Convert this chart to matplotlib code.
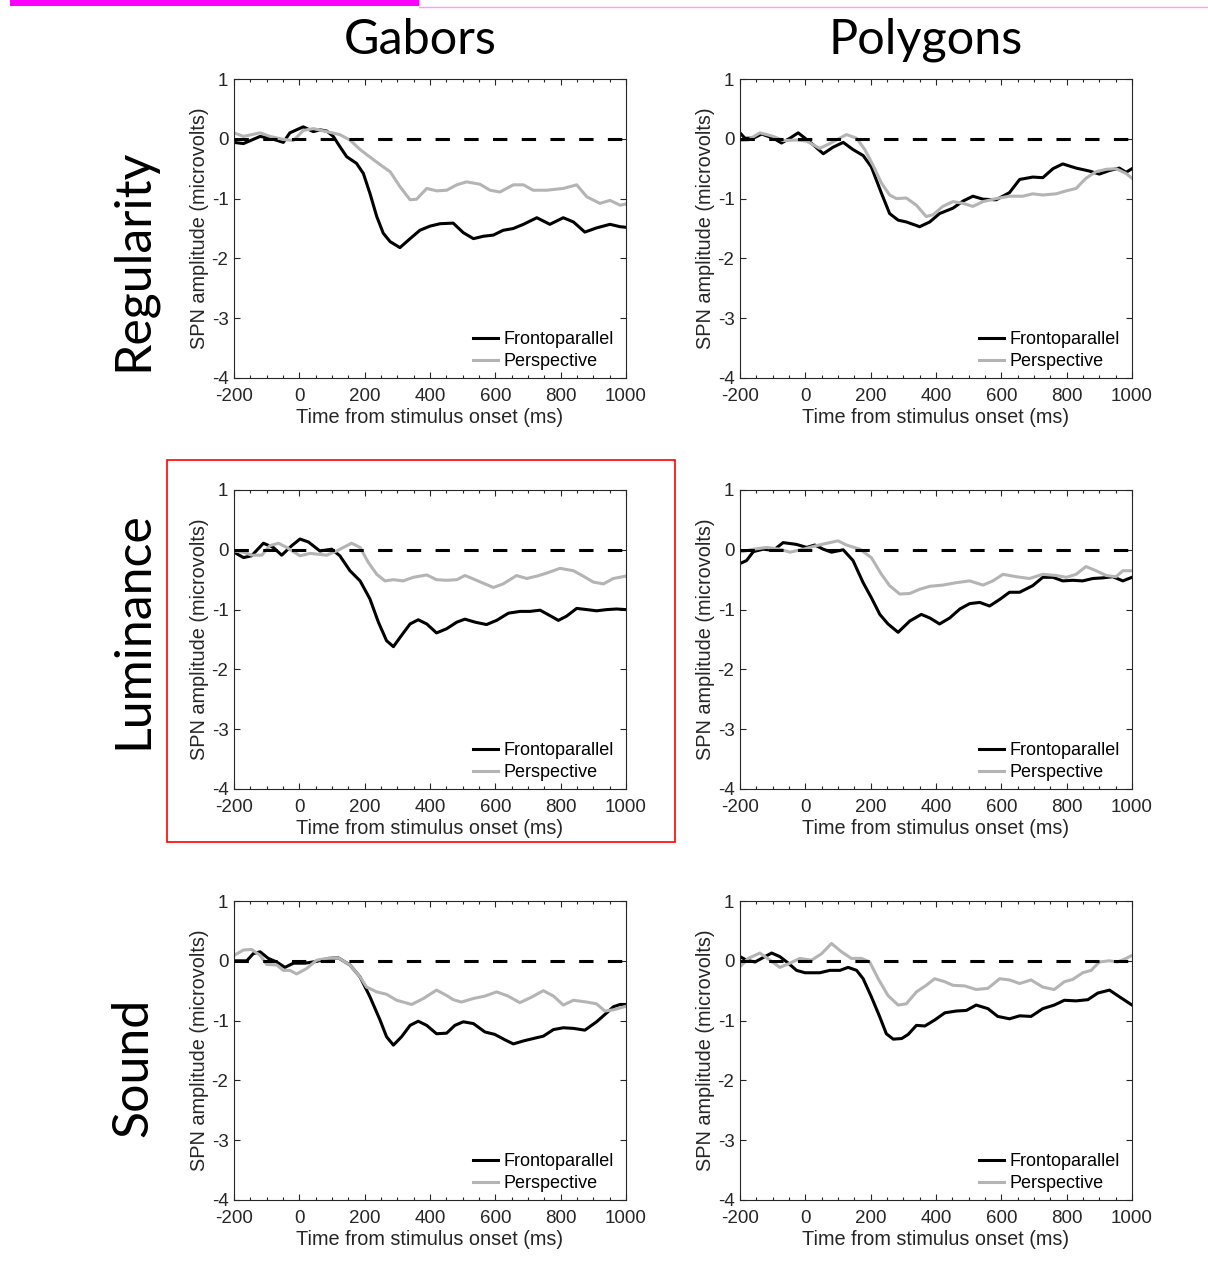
import matplotlib
matplotlib.use("Agg")
import matplotlib.pyplot as plt
from matplotlib.lines import Line2D
from matplotlib.patches import Rectangle
from matplotlib.ticker import MultipleLocator

plt.rcParams["font.family"] = ["Liberation Sans", "DejaVu Sans"]
plt.rcParams["axes.unicode_minus"] = False

columns = ["Gabors", "Polygons"]
rows = ["Regularity", "Luminance", "Sound"]
series_labels = ["Frontoparallel", "Perspective"]
x_ticks = [-200, 0, 200, 400, 600, 800, 1000]
y_ticks = [-4, -3, -2, -1, 0, 1]

# (time ms, amplitude microvolts)
reg_gab_fp = [(-200, -0.06), (-171, -0.08), (-120, 0.04), (-90, 0.01), (-49, -0.06), (-29, 0.10), (12, 0.20),
              (43, 0.12), (63, 0.15), (84, 0.13), (104, 0.04), (124, -0.13), (145, -0.30), (175, -0.41),
              (196, -0.58), (216, -0.91), (237, -1.30), (257, -1.58), (278, -1.72), (308, -1.82), (339, -1.67),
              (369, -1.53), (400, -1.46), (431, -1.42), (471, -1.41), (502, -1.57), (533, -1.67), (563, -1.63),
              (594, -1.61), (624, -1.53), (655, -1.50), (686, -1.43), (727, -1.32), (767, -1.43), (808, -1.32),
              (839, -1.39), (874, -1.56), (910, -1.49), (951, -1.43), (982, -1.47), (1000, -1.48)]
reg_gab_ps = [(-200, 0.10), (-171, 0.04), (-120, 0.10), (-90, 0.04), (-49, -0.01), (-18, -0.03), (12, 0.14),
              (43, 0.17), (84, 0.12), (124, 0.07), (155, -0.02), (186, -0.18), (227, -0.35), (257, -0.47),
              (278, -0.55), (308, -0.80), (339, -1.02), (359, -1.01), (390, -0.83), (420, -0.87), (451, -0.86),
              (482, -0.77), (512, -0.72), (553, -0.76), (584, -0.86), (614, -0.89), (655, -0.77), (686, -0.77),
              (716, -0.86), (757, -0.86), (808, -0.83), (849, -0.77), (880, -0.97), (920, -1.08), (951, -1.03),
              (982, -1.11), (1000, -1.09)]
reg_pol_fp = [(-200, 0.10), (-185, 0.01), (-159, 0.01), (-134, 0.08), (-98, 0.01), (-73, -0.07), (-47, 0.01),
              (-22, 0.10), (-1, 0.01), (24, -0.10), (55, -0.25), (85, -0.14), (116, -0.06), (146, -0.18),
              (177, -0.28), (202, -0.47), (233, -0.91), (258, -1.25), (284, -1.36), (309, -1.39), (350, -1.47),
              (381, -1.39), (411, -1.25), (452, -1.16), (483, -1.04), (513, -0.96), (544, -1.01), (584, -1.02),
              (625, -0.90), (656, -0.68), (696, -0.64), (727, -0.65), (758, -0.50), (788, -0.42), (829, -0.49),
              (870, -0.54), (900, -0.59), (931, -0.53), (961, -0.49), (982, -0.56), (1000, -0.50)]
reg_pol_ps = [(-200, -0.03), (-175, -0.02), (-139, 0.10), (-98, 0.04), (-68, -0.03), (-27, -0.02), (4, -0.04),
              (44, -0.16), (75, -0.08), (95, -0.02), (126, 0.07), (157, 0.01), (182, -0.18), (207, -0.44),
              (233, -0.74), (258, -0.94), (279, -1.00), (309, -0.99), (340, -1.11), (370, -1.30), (391, -1.27),
              (421, -1.13), (452, -1.05), (483, -1.08), (513, -1.13), (544, -1.05), (584, -1.00), (625, -0.96),
              (666, -0.96), (696, -0.92), (727, -0.94), (768, -0.92), (799, -0.87), (829, -0.83), (859, -0.66),
              (890, -0.55), (921, -0.51), (951, -0.50), (982, -0.58), (1000, -0.66)]
lum_gab_fp = [(-200, -0.04), (-171, -0.13), (-146, -0.10), (-110, 0.11), (-80, 0.04), (-54, -0.09), (-23, 0.07),
              (2, 0.18), (28, 0.13), (63, -0.02), (99, 0.01), (124, -0.10), (155, -0.35), (186, -0.52),
              (216, -0.82), (242, -1.21), (267, -1.52), (288, -1.62), (313, -1.43), (339, -1.24), (364, -1.17),
              (390, -1.24), (420, -1.39), (451, -1.32), (482, -1.21), (507, -1.16), (538, -1.21), (573, -1.25),
              (604, -1.18), (640, -1.06), (676, -1.03), (706, -1.03), (737, -1.01), (767, -1.10), (793, -1.18),
              (818, -1.11), (849, -0.98), (880, -1.00), (910, -1.02), (941, -1.00), (971, -0.99), (1000, -1.00)]
lum_gab_ps = [(-200, -0.02), (-171, -0.04), (-146, -0.09), (-115, -0.09), (-90, 0.07), (-64, 0.11), (-39, 0.04),
              (2, -0.10), (33, -0.06), (84, -0.09), (114, -0.02), (160, 0.11), (186, 0.04), (211, -0.21),
              (237, -0.41), (262, -0.52), (288, -0.50), (318, -0.52), (349, -0.46), (390, -0.42), (420, -0.50),
              (451, -0.51), (482, -0.50), (507, -0.43), (538, -0.50), (568, -0.57), (594, -0.63), (624, -0.57),
              (665, -0.43), (696, -0.48), (727, -0.44), (757, -0.39), (798, -0.31), (839, -0.35), (869, -0.44),
              (900, -0.54), (931, -0.57), (961, -0.48), (1000, -0.44)]
lum_pol_fp = [(-200, -0.23), (-180, -0.18), (-159, -0.03), (-129, 0.01), (-98, -0.01), (-68, 0.12), (-27, 0.09),
              (4, 0.04), (29, 0.08), (55, 0.01), (80, -0.04), (116, 0.00), (146, -0.18), (177, -0.55),
              (202, -0.80), (228, -1.08), (253, -1.24), (284, -1.38), (320, -1.19), (355, -1.08), (381, -1.14),
              (411, -1.24), (442, -1.14), (473, -0.99), (503, -0.90), (534, -0.88), (564, -0.94), (595, -0.83),
              (625, -0.71), (656, -0.71), (696, -0.60), (727, -0.46), (758, -0.46), (788, -0.52), (819, -0.51),
              (849, -0.52), (880, -0.48), (910, -0.47), (941, -0.45), (972, -0.52), (1000, -0.46)]
lum_pol_ps = [(-200, -0.04), (-159, 0.01), (-118, 0.04), (-78, 0.01), (-47, -0.04), (-6, 0.01), (34, 0.07),
              (75, 0.12), (100, 0.15), (126, 0.08), (167, 0.01), (202, -0.13), (233, -0.41), (258, -0.60),
              (289, -0.74), (320, -0.73), (350, -0.66), (381, -0.61), (421, -0.59), (462, -0.55), (503, -0.52),
              (544, -0.59), (574, -0.52), (605, -0.41), (646, -0.45), (686, -0.48), (727, -0.41), (768, -0.43),
              (799, -0.46), (829, -0.41), (859, -0.28), (890, -0.35), (921, -0.43), (951, -0.45), (972, -0.35),
              (1000, -0.35)]
snd_gab_fp = [(-200, 0.00), (-161, 0.00), (-141, 0.12), (-120, 0.15), (-95, 0.04), (-69, -0.02), (-44, -0.11),
              (-18, -0.04), (17, -0.04), (53, -0.01), (89, 0.04), (119, 0.05), (155, -0.07), (186, -0.27),
              (216, -0.60), (247, -0.99), (267, -1.27), (288, -1.41), (313, -1.27), (339, -1.08), (364, -1.01),
              (390, -1.08), (420, -1.22), (451, -1.21), (476, -1.08), (502, -1.02), (533, -1.05), (568, -1.19),
              (598, -1.23), (629, -1.32), (655, -1.39), (686, -1.34), (716, -1.30), (747, -1.26), (778, -1.15),
              (808, -1.12), (839, -1.13), (874, -1.16), (910, -1.02), (941, -0.87), (961, -0.77), (982, -0.73),
              (1000, -0.73)]
snd_gab_ps = [(-200, 0.09), (-171, 0.18), (-146, 0.19), (-120, 0.09), (-100, -0.06), (-69, -0.07), (-49, -0.16),
              (-29, -0.16), (-8, -0.22), (22, -0.13), (53, 0.01), (84, 0.04), (119, 0.05), (155, -0.07),
              (186, -0.27), (206, -0.44), (237, -0.52), (267, -0.56), (298, -0.66), (344, -0.73), (380, -0.63),
              (420, -0.49), (451, -0.58), (471, -0.65), (496, -0.69), (533, -0.63), (568, -0.59), (604, -0.52),
              (639, -0.59), (675, -0.70), (710, -0.61), (747, -0.50), (778, -0.59), (808, -0.74), (839, -0.66),
              (880, -0.69), (910, -0.72), (935, -0.84), (961, -0.82), (1000, -0.76)]
snd_pol_fp = [(-200, 0.07), (-180, 0.01), (-154, -0.02), (-134, 0.04), (-103, 0.13), (-78, 0.07), (-52, -0.04),
              (-27, -0.16), (-1, -0.20), (44, -0.20), (75, -0.16), (106, -0.16), (131, -0.11), (157, -0.16),
              (177, -0.30), (202, -0.60), (228, -0.94), (248, -1.22), (269, -1.31), (295, -1.30), (315, -1.23),
              (340, -1.08), (366, -1.09), (396, -0.99), (427, -0.87), (462, -0.84), (493, -0.83), (523, -0.74),
              (559, -0.80), (589, -0.93), (625, -0.97), (656, -0.92), (691, -0.93), (727, -0.80), (762, -0.74),
              (793, -0.66), (829, -0.67), (865, -0.65), (895, -0.54), (931, -0.49), (961, -0.60), (1000, -0.74)]
snd_pol_ps = [(-200, -0.10), (-175, 0.04), (-139, 0.13), (-108, 0.01), (-78, -0.11), (-47, -0.04), (-17, 0.04),
              (19, 0.01), (50, 0.12), (80, 0.29), (111, 0.15), (141, 0.04), (172, 0.04), (197, -0.02),
              (223, -0.30), (253, -0.58), (284, -0.74), (309, -0.72), (340, -0.52), (370, -0.41), (396, -0.30),
              (427, -0.35), (452, -0.41), (488, -0.42), (523, -0.48), (559, -0.46), (595, -0.30), (625, -0.32),
              (656, -0.38), (691, -0.32), (727, -0.44), (762, -0.48), (793, -0.35), (819, -0.31), (849, -0.20),
              (875, -0.16), (900, -0.02), (931, 0.00), (956, -0.02), (982, 0.04), (1000, 0.09)]

PANELS = {
    ("Regularity", "Gabors"): (reg_gab_fp, reg_gab_ps),
    ("Regularity", "Polygons"): (reg_pol_fp, reg_pol_ps),
    ("Luminance", "Gabors"): (lum_gab_fp, lum_gab_ps),
    ("Luminance", "Polygons"): (lum_pol_fp, lum_pol_ps),
    ("Sound", "Gabors"): (snd_gab_fp, snd_gab_ps),
    ("Sound", "Polygons"): (snd_pol_fp, snd_pol_ps),
}

W, H = 1208, 1275
AX_LEFT = {"Gabors": 234, "Polygons": 740}
AX_TOP = {"Regularity": 79, "Luminance": 490, "Sound": 901}
AX_W, AX_H = 392, 299
TITLE_X = {"Gabors": 420, "Polygons": 926}
ROW_Y = {"Regularity": 260, "Luminance": 630, "Sound": 1067}
LINE_COLORS = ["black", "#b4b4b4"]
AXIS_COLOR = "#262626"


def draw_panel(ax, fp, ps):
    for pts, color, label in zip((fp, ps), LINE_COLORS, series_labels):
        t, v = zip(*pts)
        ax.plot(t, v, color=color, lw=2.2, label=label, solid_joinstyle="round")
    ax.axhline(0, color="black", lw=2.2, dashes=(4.7, 4.7), zorder=3)

    ax.set_xlim(-200, 1000)
    ax.set_ylim(-4, 1)
    ax.set_xticks(x_ticks)
    ax.set_yticks(y_ticks)
    ax.xaxis.set_minor_locator(MultipleLocator(50))
    ax.tick_params(which="both", direction="in", top=True, right=True,
                   color=AXIS_COLOR, labelcolor=AXIS_COLOR, width=0.8, labelsize=13.5)
    ax.tick_params(which="major", length=4)
    ax.tick_params(which="minor", length=2)
    ax.tick_params(axis="x", which="major", pad=7.5)
    ax.tick_params(axis="y", which="major", pad=4)
    for sp in ax.spines.values():
        sp.set_color(AXIS_COLOR)
        sp.set_linewidth(0.8)

    ax.set_xlabel("Time from stimulus onset (ms)", fontsize=14.3, color=AXIS_COLOR, labelpad=2)
    ax.set_ylabel("SPN amplitude (microvolts)", fontsize=14.3, color=AXIS_COLOR, labelpad=2)
    ax.legend(loc="lower right", frameon=False, fontsize=13, handlelength=1.4,
              handletextpad=0.3, labelspacing=0.25, borderpad=0, borderaxespad=0,
              bbox_to_anchor=(1 - 12 / AX_W, 8 / AX_H))


fig = plt.figure(figsize=(W / 100, H / 100), dpi=100)

for (row, col), (fp, ps) in PANELS.items():
    left, top = AX_LEFT[col], AX_TOP[row]
    ax = fig.add_axes([left / W, 1 - (top + AX_H) / H, AX_W / W, AX_H / H])
    draw_panel(ax, fp, ps)

for col in columns:
    fig.text(TITLE_X[col] / W, 1 - 54 / H, col, ha="center", va="baseline",
             fontsize=35, family=["Lato", "DejaVu Sans"])
for row in rows:
    fig.text(133 / W, 1 - ROW_Y[row] / H, row, ha="center", va="center", rotation=90,
             fontsize=36, family=["Lato", "DejaVu Sans"])

# highlight box around the luminance / gabors panel
fig.add_artist(Rectangle((167 / W, 1 - 842 / H), 508 / W, 382 / H, transform=fig.transFigure,
                         fill=False, edgecolor="red", lw=1.2))

# cut-off banner along the top edge
fig.add_artist(Rectangle((10 / W, 1 - 6 / H), 409 / W, 6 / H, transform=fig.transFigure,
                         facecolor="#ff00ff", edgecolor="none"))
fig.add_artist(Line2D([419 / W, 1], [1 - 6.5 / H, 1 - 6.5 / H], transform=fig.transFigure,
                      color="#ff99ff", lw=1))

fig.savefig("out.png", dpi=100)
